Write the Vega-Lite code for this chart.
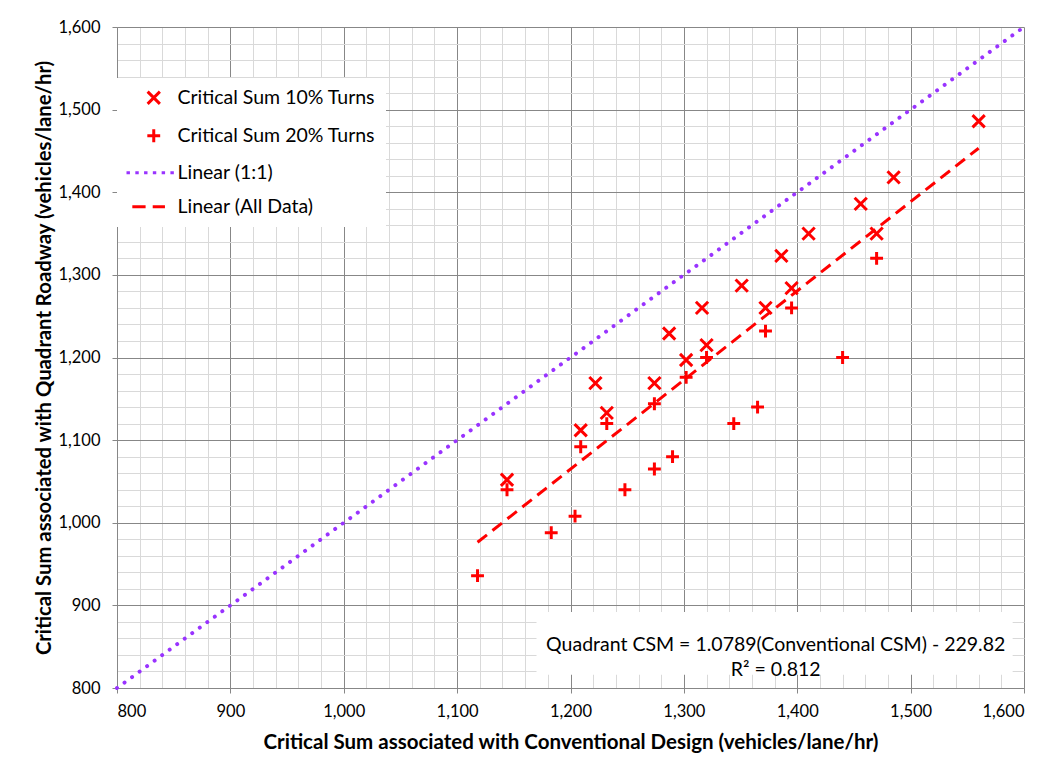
{
  "$schema": "https://vega.github.io/schema/vega-lite/v6.json",
  "width": 907,
  "height": 661,
  "autosize": {"type": "none"},
  "padding": {"left": 117, "top": 27, "right": 30, "bottom": 80},
  "background": "white",
  "config": {
    "view": {"stroke": null},
    "font": "Lato",
    "axis": {"labelFont": "Lato", "titleFont": "Lato", "labelColor": "#000000", "titleColor": "#000000"}
  },
  "datasets": {
    "points": [
      {"series": "Critical Sum 10% Turns", "conventional": 1144, "quadrant": 1052},
      {"series": "Critical Sum 10% Turns", "conventional": 1209, "quadrant": 1112},
      {"series": "Critical Sum 10% Turns", "conventional": 1222, "quadrant": 1169},
      {"series": "Critical Sum 10% Turns", "conventional": 1232, "quadrant": 1133},
      {"series": "Critical Sum 10% Turns", "conventional": 1274, "quadrant": 1169},
      {"series": "Critical Sum 10% Turns", "conventional": 1287, "quadrant": 1229},
      {"series": "Critical Sum 10% Turns", "conventional": 1302, "quadrant": 1197},
      {"series": "Critical Sum 10% Turns", "conventional": 1316, "quadrant": 1260},
      {"series": "Critical Sum 10% Turns", "conventional": 1320, "quadrant": 1215},
      {"series": "Critical Sum 10% Turns", "conventional": 1351, "quadrant": 1287},
      {"series": "Critical Sum 10% Turns", "conventional": 1372, "quadrant": 1260},
      {"series": "Critical Sum 10% Turns", "conventional": 1386, "quadrant": 1323},
      {"series": "Critical Sum 10% Turns", "conventional": 1395, "quadrant": 1284},
      {"series": "Critical Sum 10% Turns", "conventional": 1410, "quadrant": 1350},
      {"series": "Critical Sum 10% Turns", "conventional": 1456, "quadrant": 1386},
      {"series": "Critical Sum 10% Turns", "conventional": 1470, "quadrant": 1350},
      {"series": "Critical Sum 10% Turns", "conventional": 1485, "quadrant": 1418},
      {"series": "Critical Sum 10% Turns", "conventional": 1560, "quadrant": 1486},
      {"series": "Critical Sum 20% Turns", "conventional": 1118, "quadrant": 936},
      {"series": "Critical Sum 20% Turns", "conventional": 1144, "quadrant": 1040},
      {"series": "Critical Sum 20% Turns", "conventional": 1183, "quadrant": 988},
      {"series": "Critical Sum 20% Turns", "conventional": 1204, "quadrant": 1008},
      {"series": "Critical Sum 20% Turns", "conventional": 1209, "quadrant": 1092},
      {"series": "Critical Sum 20% Turns", "conventional": 1232, "quadrant": 1120},
      {"series": "Critical Sum 20% Turns", "conventional": 1248, "quadrant": 1040},
      {"series": "Critical Sum 20% Turns", "conventional": 1274, "quadrant": 1065},
      {"series": "Critical Sum 20% Turns", "conventional": 1274, "quadrant": 1144},
      {"series": "Critical Sum 20% Turns", "conventional": 1290, "quadrant": 1080},
      {"series": "Critical Sum 20% Turns", "conventional": 1302, "quadrant": 1176},
      {"series": "Critical Sum 20% Turns", "conventional": 1320, "quadrant": 1200},
      {"series": "Critical Sum 20% Turns", "conventional": 1344, "quadrant": 1120},
      {"series": "Critical Sum 20% Turns", "conventional": 1365, "quadrant": 1140},
      {"series": "Critical Sum 20% Turns", "conventional": 1372, "quadrant": 1232},
      {"series": "Critical Sum 20% Turns", "conventional": 1395, "quadrant": 1260},
      {"series": "Critical Sum 20% Turns", "conventional": 1440, "quadrant": 1200},
      {"series": "Critical Sum 20% Turns", "conventional": 1470, "quadrant": 1320}
    ],
    "oneToOne": [
      {"conventional": 800, "quadrant": 800},
      {"conventional": 1600, "quadrant": 1600}
    ],
    "trend": [
      {"conventional": 1118, "quadrant": 976.4},
      {"conventional": 1560, "quadrant": 1453.3}
    ],
    "equation": [
      {"label": ["Quadrant CSM = 1.0789(Conventional CSM) - 229.82", "R² = 0.812"]}
    ]
  },
  "resolve": {"axis": {"x": "independent", "y": "independent"}},
  "layer": [
    {
      "data": {"name": "equation"},
      "mark": {"type": "rect", "fill": "white"},
      "encoding": {
        "x": {"datum": 1170, "type": "quantitative", "scale": {"domain": [800, 1600], "nice": false, "zero": false},
          "axis": {"orient": "bottom", "values": [800,820,840,860,880,900,920,940,960,980,1000,1020,1040,1060,1080,1100,1120,1140,1160,1180,1200,1220,1240,1260,1280,1300,1320,1340,1360,1380,1400,1420,1440,1460,1480,1500,1520,1540,1560,1580,1600],
            "grid": true, "gridColor": "#d9d9d9", "gridWidth": 1, "labels": false, "ticks": false, "domain": false, "title": null}},
        "x2": {"datum": 1590},
        "y": {"datum": 816, "type": "quantitative", "scale": {"domain": [800, 1600], "nice": false, "zero": false},
          "axis": {"orient": "left", "values": [800,820,840,860,880,900,920,940,960,980,1000,1020,1040,1060,1080,1100,1120,1140,1160,1180,1200,1220,1240,1260,1280,1300,1320,1340,1360,1380,1400,1420,1440,1460,1480,1500,1520,1540,1560,1580,1600],
            "grid": true, "gridColor": "#d9d9d9", "gridWidth": 1, "labels": false, "ticks": false, "domain": false, "title": null}},
        "y2": {"datum": 892}
      }
    },
    {
      "data": {"name": "oneToOne"},
      "mark": {"type": "line", "color": "#9933ff", "strokeWidth": 4, "strokeCap": "round", "strokeDash": [0.01, 9.3]},
      "encoding": {
        "x": {"field": "conventional", "type": "quantitative",
          "axis": {"orient": "bottom", "values": [800,900,1000,1100,1200,1300,1400,1500,1600], "labelExpr": "format(datum.value, ',')", "grid": true, "gridColor": "#878787", "gridWidth": 1,
            "domainColor": "#878787", "tickColor": "#878787", "tickSize": 5, "labelFontSize": 16.5, "labelPadding": 10,
            "title": "Critical Sum associated with Conventional Design  (vehicles/lane/hr)", "titleFontSize": 20.5, "titleFontWeight": "bold", "titlePadding": 13}},
        "y": {"field": "quadrant", "type": "quantitative",
          "axis": {"orient": "left", "values": [800,900,1000,1100,1200,1300,1400,1500,1600], "labelExpr": "format(datum.value, ',')", "grid": true, "gridColor": "#878787", "gridWidth": 1,
            "domainColor": "#878787", "tickColor": "#878787", "tickSize": 5, "labelFontSize": 16.5, "labelPadding": 12,
            "title": "Critical Sum associated with Quadrant Roadway (vehicles/lane/hr)", "titleFontSize": 20.3, "titleFontWeight": "bold", "titlePadding": 3}}
      }
    },
    {
      "data": {"name": "trend"},
      "mark": {"type": "line", "color": "#ff0000", "strokeWidth": 3, "strokeDash": [12, 7]},
      "encoding": {
        "x": {"field": "conventional", "type": "quantitative", "axis": null},
        "y": {"field": "quadrant", "type": "quantitative", "axis": null}
      }
    },
    {
      "data": {"name": "points"},
      "mark": {"type": "point", "filled": false, "strokeWidth": 3, "size": 150, "opacity": 1},
      "encoding": {
        "x": {"field": "conventional", "type": "quantitative", "axis": null},
        "y": {"field": "quadrant", "type": "quantitative", "axis": null},
        "color": {"field": "series", "type": "nominal",
          "scale": {"domain": ["Critical Sum 10% Turns", "Critical Sum 20% Turns", "Linear (1:1)", "Linear (All Data)"],
            "range": ["#ff0000", "#ff0000", "#9933ff", "#ff0000"]},
          "legend": {"title": null, "orient": "none", "legendX": 0, "legendY": 51, "fillColor": "white", "padding": 10,
            "symbolSize": 150, "symbolOffset": 17, "labelOffset": 14, "labelFont": "Lato", "labelFontSize": 19.5, "labelColor": "#000000", "labelLimit": 400,
            "rowPadding": 13, "symbolStrokeWidth": 3,
            "encode": {"symbols": {"update": {
              "strokeWidth": {"signal": "datum.value === 'Linear (1:1)' ? 4 : 3"},
              "strokeCap": {"signal": "datum.value === 'Linear (1:1)' ? 'round' : 'butt'"}}}}}},
        "shape": {"field": "series", "type": "nominal",
          "scale": {"domain": ["Critical Sum 10% Turns", "Critical Sum 20% Turns", "Linear (1:1)", "Linear (All Data)"],
            "range": ["M-1,-1L1,1M-1,1L1,-1", "M-1.05,0L1.05,0M0,-1.05L0,1.05",
              "M-4.45,0L-3.89,0M-3.01,0L-2.45,0M-1.58,0L-1.02,0M-0.15,0L0.41,0M1.29,0L1.85,0M2.72,0L3.28,0",
              "M-3.5,0L-1.33,0M-0.17,0L1.83,0"]},
          "legend": {"title": null, "orient": "none", "legendX": 0, "legendY": 51, "fillColor": "white", "padding": 10,
            "symbolSize": 150, "symbolOffset": 17, "labelOffset": 14, "labelFont": "Lato", "labelFontSize": 19.5, "labelColor": "#000000", "labelLimit": 400,
            "rowPadding": 13, "symbolStrokeWidth": 3,
            "encode": {"symbols": {"update": {
              "strokeWidth": {"signal": "datum.value === 'Linear (1:1)' ? 4 : 3"},
              "strokeCap": {"signal": "datum.value === 'Linear (1:1)' ? 'round' : 'butt'"}}}}}}
      }
    },
    {
      "data": {"name": "equation"},
      "mark": {"type": "text", "font": "Lato", "fontSize": 19.5, "color": "#000000", "align": "center", "baseline": "middle", "lineHeight": 25},
      "encoding": {
        "x": {"datum": 1381, "type": "quantitative", "axis": null},
        "y": {"datum": 851.5, "type": "quantitative", "axis": null},
        "text": {"field": "label"}
      }
    }
  ]
}
